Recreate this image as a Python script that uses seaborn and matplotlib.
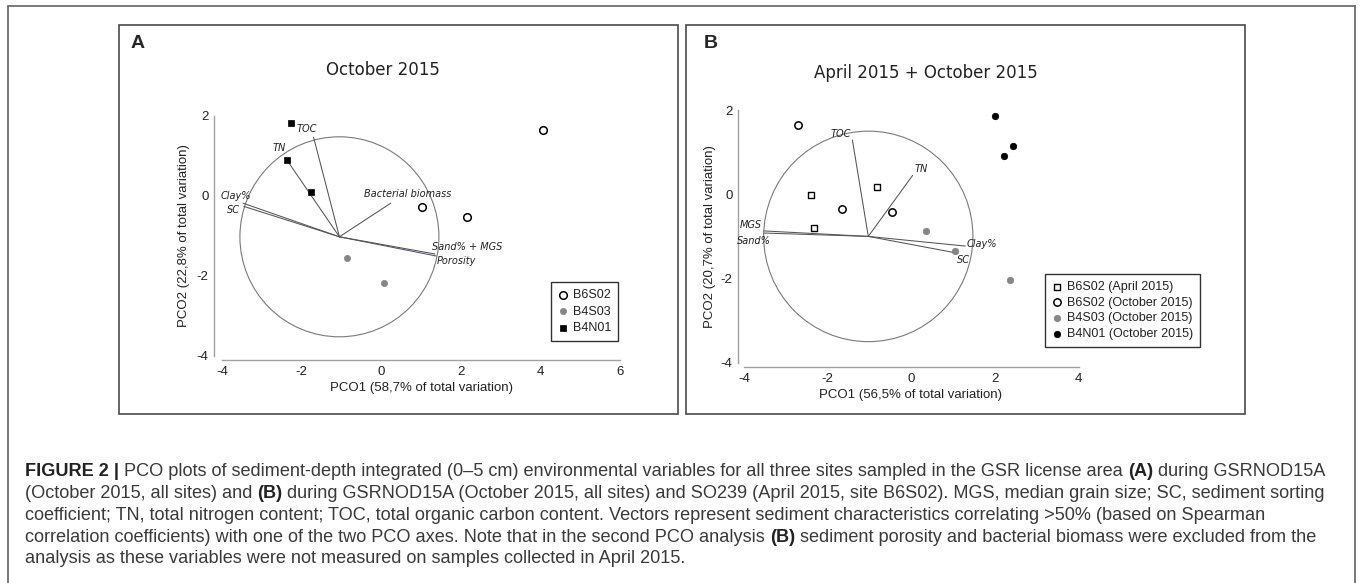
import numpy as np
import pandas as pd
import seaborn as sns
import matplotlib.pyplot as plt
from matplotlib.patches import Circle, Rectangle
from matplotlib.lines import Line2D

W, H = 1360, 583

# ---------------- panel A : October 2015 ----------------
a_groups = ["B6S02", "B4S03", "B4N01"]
a_x = [[4.07, 1.03, 2.15], [-0.86, 0.08], [-2.27, -2.37, -1.77]]
a_y = [[1.65, -0.28, -0.53], [-1.55, -2.17], [1.83, 0.89, 0.09]]

a_center = (-1.05, -1.02)
a_radius = 2.5
a_vec_names = ["TOC", "TN", "Bacterial biomass", "Clay%", "SC", "Sand% + MGS", "Porosity"]
a_vec_x = [-1.70, -2.37, 0.24, -3.47, -3.45, 1.35, 1.38]
a_vec_y = [1.47, 0.90, -0.18, -0.18, -0.26, -1.45, -1.50]
a_lab_x = [-1.86, -2.57, 0.67, -3.64, -3.72, 2.15, 1.89]
a_lab_y = [1.67, 1.19, 0.04, 0.01, -0.36, -1.27, -1.62]

# ---------------- panel B : April + October 2015 ----------------
b_groups = ["B6S02 (April 2015)", "B6S02 (October 2015)",
            "B4S03 (October 2015)", "B4N01 (October 2015)"]
b_x = [[-2.40, -0.82, -2.33], [-2.72, -1.66, -0.47],
       [0.36, 1.05, 2.36], [1.99, 2.21, 2.43]]
b_y = [[-0.01, 0.18, -0.79], [1.64, -0.34, -0.41],
       [-0.86, -1.34, -2.04], [1.86, 0.90, 1.14]]

b_center = (-1.03, -1.00)
b_radius = 2.5
b_vec_names = ["TOC", "TN", "MGS", "Sand%", "Clay%", "SC"]
b_vec_x = [-1.41, 0.03, -3.52, -3.52, 1.29, 1.11]
b_vec_y = [1.29, 0.45, -0.87, -0.92, -1.23, -1.40]
b_lab_x = [-1.68, 0.24, -3.83, -3.76, 1.68, 1.25]
b_lab_y = [1.44, 0.61, -0.72, -1.10, -1.17, -1.55]

caption = [
    [("FIGURE 2 |", True), (" PCO plots of sediment-depth integrated (0\u20135 cm) environmental variables for all three sites sampled in the GSR license area ", False),
     ("(A)", True), (" during GSRNOD15A", False)],
    [("(October 2015, all sites) and ", False), ("(B)", True),
     (" during GSRNOD15A (October 2015, all sites) and SO239 (April 2015, site B6S02). MGS, median grain size; SC, sediment sorting", False)],
    [("coefficient; TN, total nitrogen content; TOC, total organic carbon content. Vectors represent sediment characteristics correlating >50% (based on Spearman", False)],
    [("correlation coefficients) with one of the two PCO axes. Note that in the second PCO analysis ", False), ("(B)", True),
     (" sediment porosity and bacterial biomass were excluded from the", False)],
    [("analysis as these variables were not measured on samples collected in April 2015.", False)],
]

sns.set_style("white")
plt.rcParams["font.family"] = ["Liberation Sans", "DejaVu Sans"]
plt.rcParams["axes.unicode_minus"] = False

fig = plt.figure(figsize=(W / 100, H / 100), dpi=100)


def fx(px):
    return px / W


def fy(py):
    return 1 - py / H


def make_axes(left, right, bottom, top):
    return fig.add_axes([fx(left), fy(bottom), fx(right) - fx(left), fy(top) - fy(bottom)])


styles_a = [dict(marker="o", s=30, color="white", edgecolor="black", linewidth=1.1),
            dict(marker="o", s=20, color="#858585", edgecolor="#858585", linewidth=0.5),
            dict(marker="s", s=20, color="black", edgecolor="black", linewidth=0.5)]
styles_b = [dict(marker="s", s=18, color="white", edgecolor="black", linewidth=1.0),
            dict(marker="o", s=28, color="white", edgecolor="black", linewidth=1.1),
            dict(marker="o", s=22, color="#858585", edgecolor="#858585", linewidth=0.5),
            dict(marker="o", s=22, color="black", edgecolor="black", linewidth=0.5)]


def draw_panel(ax, groups, xs, ys, styles, center, radius, names, vx, vy, lx, ly, xlim):
    ax.set_facecolor("none")
    ax.add_patch(Circle(center, radius, fill=False, ec="#7a7a7a", lw=0.8, zorder=1, clip_on=False))
    for name, ex, ey in zip(names, vx, vy):
        col = "#4b4b78" if name == "Sand% + MGS" else "#555555"
        ax.plot([center[0], ex], [center[1], ey], color=col, lw=0.75, zorder=2, clip_on=False)
    for name, tx, ty in zip(names, lx, ly):
        ax.text(tx, ty, name, fontsize=7, style="italic", family="DejaVu Sans",
                ha="center", va="center", color="#222222")
    rows = []
    for g, gx, gy in zip(groups, xs, ys):
        for x, y in zip(gx, gy):
            rows.append((g, x, y))
    df = pd.DataFrame(rows, columns=["site", "x", "y"])
    for g, st in zip(groups, styles):
        sns.scatterplot(data=df[df["site"] == g], x="x", y="y", label=g, ax=ax,
                        zorder=3, clip_on=False, **st)
    ax.set_xlim(xlim[0], xlim[1])
    ax.set_ylim(-4, 2.3)
    ax.set_xticks(np.arange(xlim[0], xlim[1] + 1, 2))
    ax.set_yticks([-4, -2, 0, 2])
    ax.spines["left"].set_bounds(-4, 2)
    ax.spines["bottom"].set_bounds(xlim[0], xlim[1])
    for sp in ("left", "bottom"):
        ax.spines[sp].set_color("#a0a0a0")
        ax.spines[sp].set_linewidth(1.0)
    ax.tick_params(direction="inout", length=4, width=0.9, color="#a0a0a0",
                   labelsize=9.5, labelcolor="#222222", pad=2)


# panel A
axA = make_axes(222, 620, 356, 356 - 6.3 * 40)
draw_panel(axA, a_groups, a_x, a_y, styles_a, a_center, a_radius,
           a_vec_names, a_vec_x, a_vec_y, a_lab_x, a_lab_y, (-4, 6))
sns.despine(ax=axA, offset={"left": 5.8, "bottom": 2.9})
axA.set_xlabel("PCO1 (58,7% of total variation)", fontsize=9.5, va="center", color="#222222")
axA.set_ylabel("PCO2 (22,8% of total variation)", fontsize=9.5, va="center", color="#222222")
axA.xaxis.set_label_coords(fx(421), fy(388), transform=fig.transFigure)
axA.yaxis.set_label_coords(fx(184), fy(236), transform=fig.transFigure)

# panel B
axB = make_axes(744, 1078.8, 362.7, 362.7 - 6.3 * 42.1)
draw_panel(axB, b_groups, b_x, b_y, styles_b, b_center, b_radius,
           b_vec_names, b_vec_x, b_vec_y, b_lab_x, b_lab_y, (-4, 4))
sns.despine(ax=axB, offset={"left": 4.3, "bottom": 3.3})
axB.set_xlabel("PCO1 (56,5% of total variation)", fontsize=9.5, va="center", color="#222222")
axB.set_ylabel("PCO2 (20,7% of total variation)", fontsize=9.5, va="center", color="#222222")
axB.xaxis.set_label_coords(fx(911), fy(395), transform=fig.transFigure)
axB.yaxis.set_label_coords(fx(709.5), fy(237), transform=fig.transFigure)

for ax, corner, lsp in ((axA, (551, 282), 0.38), (axB, (1045, 274), 0.3)):
    h, l = ax.get_legend_handles_labels()
    leg = ax.legend(h, l, loc="upper left", bbox_to_anchor=(fx(corner[0]), fy(corner[1])),
                    bbox_transform=fig.transFigure, borderaxespad=0, frameon=True,
                    fancybox=False, edgecolor="black", fontsize=9, handlelength=0.8,
                    handletextpad=0.4, labelspacing=lsp, borderpad=0.55)
    leg.get_frame().set_linewidth(1.0)
    for t in leg.get_texts():
        t.set_color("#222222")

# titles and panel letters
fig.text(fx(383), fy(70), "October 2015", family="DejaVu Sans", fontsize=12,
         ha="center", va="center", color="#222222")
fig.text(fx(926), fy(73), "April 2015 + October 2015", family="DejaVu Sans", fontsize=12,
         ha="center", va="center", color="#222222")
fig.text(fx(137.5), fy(43.5), "A", fontsize=14, fontweight="bold", ha="center", va="center")
fig.text(fx(711), fy(43.5), "B", fontsize=14, fontweight="bold", ha="center", va="center")

# panel boxes and outer frame
for l, r in ((119, 678), (686, 1245)):
    fig.add_artist(Rectangle((fx(l), fy(413.5)), fx(r) - fx(l), fy(25) - fy(413.5),
                             transform=fig.transFigure, fill=False, ec="#4a4a4a", lw=1.2))
frame_kw = dict(transform=fig.transFigure, color="#707070", lw=1.3)
fig.add_artist(Line2D([fx(8), fx(8)], [fy(6), -0.05], **frame_kw))
fig.add_artist(Line2D([fx(1355), fx(1355)], [fy(6), -0.05], **frame_kw))
fig.add_artist(Line2D([fx(8), fx(1355)], [fy(6), fy(6)], **frame_kw))

# caption with bold runs
rend = fig.canvas.get_renderer()


def seg_width(s, size, bold):
    kw = dict(fontsize=size, fontweight="bold" if bold else "normal")
    t1 = fig.text(0, 0, "|" + s + "|", **kw)
    t2 = fig.text(0, 0, "||", **kw)
    w = t1.get_window_extent(rend).width - t2.get_window_extent(rend).width
    t1.remove()
    t2.remove()
    return w


base = 10
wline = sum(seg_width(s, base, b) for s, b in caption[2])
cap_size = base * (1273 - 25) / wline

for i, line in enumerate(caption):
    x = 25
    y = 470 + i * 21.7
    for s, b in line:
        fig.text(fx(x), fy(y), s, fontsize=cap_size, fontweight="bold" if b else "normal",
                 ha="left", va="center_baseline", color="#222222" if b else "#3a3a3a")
        x += seg_width(s, cap_size, b)

fig.savefig("out.png", dpi=100, facecolor="white")
